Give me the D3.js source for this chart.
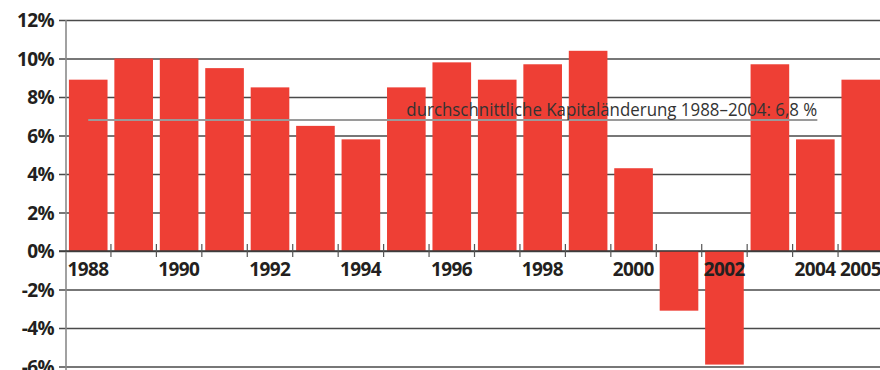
<!DOCTYPE html>
<html>
<head>
<meta charset="utf-8">
<script src="https://cdn.jsdelivr.net/npm/d3@7"></script>
<style>
  html, body { margin: 0; padding: 0; background: #fff; overflow: hidden; }
  svg { display: block; }
</style>
</head>
<body>
<svg id="chart" width="880" height="370"></svg>
<script>
// Jährliche Kapitaländerung in Prozent
const years = [1988, 1989, 1990, 1991, 1992, 1993, 1994, 1995, 1996, 1997, 1998, 1999, 2000, 2001, 2002, 2003, 2004, 2005];
const changes = [8.9, 10.0, 10.0, 9.5, 8.5, 6.5, 5.8, 8.5, 9.8, 8.9, 9.7, 10.4, 4.3, -3.1, -5.9, 9.7, 5.8, 8.9];
const yTicks = [-6, -4, -2, 0, 2, 4, 6, 8, 10, 12];
const yearLabels = [1988, 1990, 1992, 1994, 1996, 1998, 2000, 2002, 2004, 2005];
const average = 6.8;
const averageSpan = [1988, 2004];
const averageLabel = "durchschnittliche Kapitaländerung 1988–2004: 6,8 %";

const svg = d3.select("#chart");
const textColor = "#231f20";
const barColor = "#ee3f35";

const x = d3.scaleBand()
  .domain(years)
  .range([65.5, 883.5])
  .paddingInner(0.15)
  .paddingOuter(0.075);

const y = d3.scaleLinear()
  .domain([-6, 12])
  .range([366.5, 20]);

// Horizontal grid with short ticks left of the axis
const yAxis = d3.axisLeft(y)
  .tickValues(yTicks)
  .tickSize(-(880 - 66))
  .tickSizeOuter(0)
  .tickPadding(12)
  .tickFormat(d => d + "%");

const gy = svg.append("g")
  .attr("transform", "translate(66,0)")
  .call(yAxis);
gy.select(".domain").remove();
gy.selectAll(".tick line")
  .attr("x1", -7)
  .attr("stroke", "#4a4a4a")
  .attr("stroke-width", 1.4);
gy.selectAll(".tick text")
  .attr("fill", textColor)
  .attr("font-family", "'Open Sans', sans-serif")
  .attr("font-weight", "bold")
  .attr("font-size", 19)
  .attr("letter-spacing", -0.6)
  .attr("dy", "0.36em");

// Vertical axis line
svg.append("line")
  .attr("x1", 66).attr("x2", 66)
  .attr("y1", y(12)).attr("y2", 370)
  .attr("stroke", "#8a8a8a")
  .attr("stroke-width", 1.6);

// Bars
svg.append("g")
  .selectAll("rect")
  .data(years.map((yr, i) => ({ yr, v: changes[i] })))
  .join("rect")
  .attr("x", d => x(d.yr))
  .attr("width", x.bandwidth())
  .attr("y", d => y(Math.max(0, d.v)))
  .attr("height", d => Math.abs(y(d.v) - y(0)))
  .attr("fill", barColor);

// Zero line with boundary ticks between bars
svg.append("line")
  .attr("x1", 59).attr("x2", 880)
  .attr("y1", y(0)).attr("y2", y(0))
  .attr("stroke", "#3a3a3a")
  .attr("stroke-width", 1.4);

const boundaries = years.slice(1).map(yr => x(yr) - x.step() * x.paddingInner() / 2);
svg.append("g")
  .selectAll("line")
  .data(boundaries)
  .join("line")
  .attr("x1", d => d).attr("x2", d => d)
  .attr("y1", y(0) - 7).attr("y2", y(0) + 6)
  .attr("stroke", "#555")
  .attr("stroke-width", 1.2);

// Year labels
svg.append("g")
  .selectAll("text")
  .data(yearLabels)
  .join("text")
  .attr("x", d => x(d) - 1.5)
  .attr("y", y(0) + 25)
  .attr("fill", textColor)
  .attr("font-family", "'Open Sans', sans-serif")
  .attr("font-weight", "bold")
  .attr("font-size", 19)
  .attr("letter-spacing", -0.6)
  .text(d => d);

// Average line and caption
const ax1 = x(averageSpan[0]) + x.bandwidth() / 2;
const ax2 = x(averageSpan[1]) + x.bandwidth() / 2 + 2;
svg.append("line")
  .attr("x1", ax1).attr("x2", ax2)
  .attr("y1", y(average)).attr("y2", y(average))
  .attr("stroke", "#9a9a9a")
  .attr("stroke-width", 2);

svg.append("text")
  .attr("x", ax2)
  .attr("y", y(average) - 4)
  .attr("text-anchor", "end")
  .attr("fill", "#333")
  .attr("font-family", "'Open Sans', sans-serif")
  .attr("font-size", 19)
  .attr("textLength", 411)
  .attr("lengthAdjust", "spacingAndGlyphs")
  .text(averageLabel);
</script>
</body>
</html>
